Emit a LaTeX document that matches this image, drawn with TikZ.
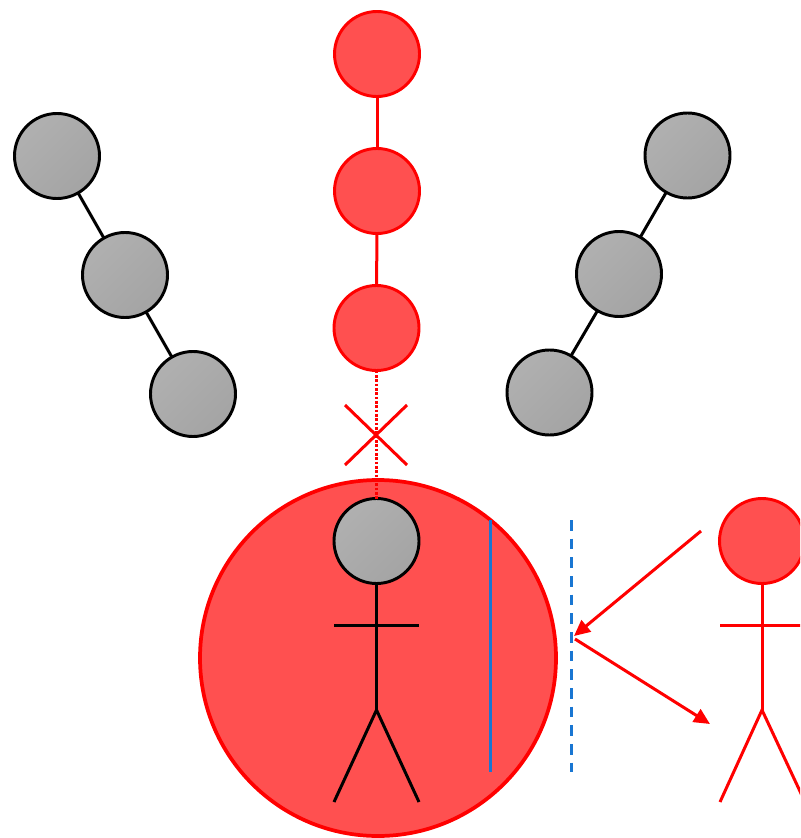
\documentclass[tikz,border=0pt]{standalone}
\usetikzlibrary{arrows.meta}
\definecolor{rfill}{HTML}{FF5050}
\definecolor{rline}{HTML}{FF0000}
\definecolor{linkblue}{HTML}{1976D2}
\definecolor{graylight}{HTML}{B0B0B0}
\definecolor{graydark}{HTML}{A4A4A4}
\tikzset{
  px/.style={x=0.75pt,y=-0.75pt},
  graynode/.style={circle,draw=black,line width=2.2pt,minimum size=63.75pt,inner sep=0pt,outer sep=0pt,
    top color=graylight,bottom color=graydark,shading angle=45},
  rednode/.style={circle,draw=rline,line width=2.2pt,fill=rfill,minimum size=63.75pt,inner sep=0pt,outer sep=0pt},
  blacklink/.style={draw=black,line width=2.25pt},
  redlink/.style={draw=rline,line width=2.25pt},
  reddotted/.style={draw=rline,line width=2.25pt,dash pattern=on 2pt off 1.25pt},
  redarrow/.style={draw=rline,line width=2.25pt,-{Triangle[length=12pt,width=11pt,fill=rline]}},
}
\begin{document}
\begin{tikzpicture}[px]
\clip (0,0) rectangle (800,838);
\useasboundingbox (0,0) rectangle (800,838);
% big circle
\node[circle,draw=rline,line width=2.8pt,fill=rfill,minimum size=267pt,inner sep=0pt,outer sep=0pt] (big) at (378,658) {};
% coordinates
\coordinate (xa) at (345,405); \coordinate (xb) at (407,465);
\coordinate (xc) at (407,405); \coordinate (xd) at (345,465);
\coordinate (b1) at (490,520); \coordinate (b2) at (490,772);
\coordinate (d1) at (571,520); \coordinate (d2) at (571,772);
\coordinate (hip) at (376.5,710); \coordinate (al) at (334,625.5); \coordinate (ar) at (419,625.5);
\coordinate (ll) at (334,802); \coordinate (lr) at (419,802);
\coordinate (hip2) at (762,710); \coordinate (al2) at (720,625.5); \coordinate (ar2) at (805,625.5);
\coordinate (ll2) at (720,802); \coordinate (lr2) at (805,802);
\coordinate (a1s) at (701,531); \coordinate (a1e) at (574,636);
\coordinate (a2s) at (575,639); \coordinate (a2e) at (710,724);
% nodes
\node[graynode] (l1) at (57,156) {};
\node[graynode] (l2) at (125,275) {};
\node[graynode] (l3) at (193,394) {};
\node[graynode] (r1) at (687.5,155.5) {};
\node[graynode] (r2) at (619,274) {};
\node[graynode] (r3) at (549.5,392.5) {};
\node[rednode] (m1) at (377,54) {};
\node[rednode] (m2) at (377,191) {};
\node[rednode] (m3) at (376.5,328) {};
\node[graynode] (head) at (376.5,541) {};
\node[rednode] (head2) at (762,541) {};
% links
\draw[blacklink] (l1) -- (l2);
\draw[blacklink] (l2) -- (l3);
\draw[blacklink] (r1) -- (r2);
\draw[blacklink] (r2) -- (r3);
\draw[redlink] (m1) -- (m2);
\draw[redlink] (m2) -- (m3);
\draw[reddotted] (m3) -- (head);
\draw[redlink] (xa) -- (xb);
\draw[redlink] (xc) -- (xd);
% black figure
\draw[blacklink] (head) -- (hip);
\draw[blacklink] (al) -- (ar);
\draw[blacklink] (ll) -- (hip) -- (lr);
% blue
\draw[linkblue,line width=2.25pt] (b1) -- (b2);
\draw[linkblue,line width=2.25pt,dash pattern=on 8pt off 6pt] (d1) -- (d2);
% red figure
\draw[redlink] (head2) -- (hip2);
\draw[redlink] (al2) -- (ar2);
\draw[redlink] (ll2) -- (hip2) -- (lr2);
% arrows
\draw[redarrow] (a1s) -- (a1e);
\draw[redarrow] (a2s) -- (a2e);
\end{tikzpicture}
\end{document}
